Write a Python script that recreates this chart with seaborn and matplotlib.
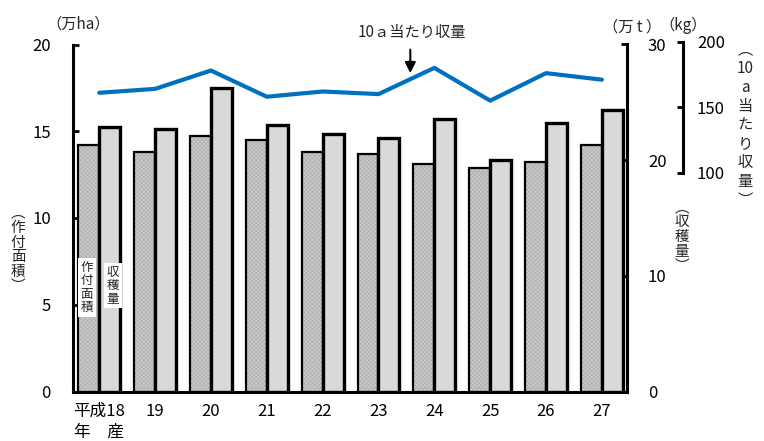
import numpy as np
import pandas as pd
import matplotlib
matplotlib.use("Agg")
import matplotlib.pyplot as plt
import seaborn as sns

# ---- data ----
years = ["18", "19", "20", "21", "22", "23", "24", "25", "26", "27"]
tick_labels = ["平成18\n年　産", "19", "20", "21", "22", "23", "24", "25", "26", "27"]
area = [14.2, 13.8, 14.7, 14.5, 13.8, 13.7, 13.1, 12.9, 13.2, 14.2]        # 万ha
harvest = [22.9, 22.7, 26.2, 23.0, 22.3, 21.9, 23.6, 20.0, 23.2, 24.3]     # 万t
yield_kg = [161, 164, 178, 158, 162, 160, 180, 155, 176, 171]              # kg/10a
series = ["作付面積", "収穫量"]

sns.set_theme(style="white")
FAM = ["Liberation Sans Narrow", "Noto Sans CJK JP", "DejaVu Sans"]
JP = ["Noto Sans CJK JP", "DejaVu Sans"]
plt.rcParams["font.family"] = FAM
plt.rcParams["hatch.linewidth"] = 0.35

W, H = 764, 441
fig = plt.figure(figsize=(W / 100, H / 100), dpi=100)

def fx(x):
    return x / W

def fy(y):
    return 1 - y / H

L, R, T, B = 73, 627, 44.5, 391.5
ax = fig.add_axes([fx(L), fy(B), fx(R) - fx(L), fy(T) - fy(B)])
ax2 = ax.twinx()

df_area = pd.DataFrame({"year": years, "value": area, "series": series[0]})
df_harv = pd.DataFrame({"year": years, "value": harvest, "series": series[1]})
pal = {series[0]: "#c8c8c8", series[1]: "#d9d9d9"}

sns.barplot(data=df_area, x="year", y="value", hue="series", hue_order=series,
            order=years, palette=pal, width=0.75, dodge=True, legend=False,
            edgecolor="black", linewidth=1.6, hatch="xxxxxxxx", ax=ax, saturation=1)
sns.barplot(data=df_harv, x="year", y="value", hue="series", hue_order=series,
            order=years, palette=pal, width=0.75, dodge=True, legend=False,
            edgecolor="black", linewidth=2.4, ax=ax2, saturation=1)
for p in ax.patches:
    p._hatch_color = (0.66, 0.66, 0.66, 1.0)

xl = (-0.47, 9.45)
ax.set_xlim(*xl)
ax2.set_xlim(*xl)
ax.set_ylim(0, 20)
ax2.set_ylim(0, 30)
ax.set_yticks([0, 5, 10, 15, 20])
ax2.set_yticks([0, 10, 20, 30])
ax.set_xticks(range(len(years)))
ax.set_xticklabels(tick_labels, fontsize=12, family=FAM, linespacing=1.35)
ax.set_xlabel("")
ax.set_ylabel("")
ax2.set_ylabel("")

for a in (ax, ax2):
    a.patch.set_visible(False)
    for s in a.spines.values():
        s.set_visible(False)
    a.grid(False)
ax.spines["left"].set_visible(True)
ax.spines["bottom"].set_visible(True)
ax2.spines["right"].set_visible(True)
for s in (ax.spines["left"], ax.spines["bottom"], ax2.spines["right"]):
    s.set_linewidth(2.2)
    s.set_color("black")

ax.tick_params(axis="y", direction="in", length=4, width=2, pad=16, labelsize=12,
               left=True, colors="black")
ax.tick_params(axis="x", length=0, pad=8, labelsize=12, colors="black")
ax2.tick_params(axis="y", direction="in", length=4, width=2, pad=15, labelsize=12,
                right=True, colors="black")

# ---- yield line on its own axis ----
k_top, k_bot = 41.7, 172.7
ax3 = fig.add_axes([fx(L), fy(k_bot), fx(R) - fx(L), fy(k_top) - fy(k_bot)])
df_y = pd.DataFrame({"pos": np.arange(len(years)), "kg": yield_kg})
sns.lineplot(data=df_y, x="pos", y="kg", color="#0070C0", linewidth=3.0, ax=ax3)
ax3.set_xlim(*xl)
ax3.set_ylim(100, 200)
ax3.patch.set_visible(False)
ax3.grid(False)
for s in ax3.spines.values():
    s.set_visible(False)
ax3.spines["right"].set_visible(True)
ax3.spines["right"].set_position(("axes", (683 - L) / (R - L)))
ax3.spines["right"].set_linewidth(2.2)
ax3.spines["right"].set_color("black")
ax3.yaxis.tick_right()
ax3.set_yticks([100, 150, 200])
ax3.tick_params(axis="y", direction="in", length=4, width=2, pad=10, labelsize=12,
                right=True, left=False, colors="black")
ax3.set_xticks([])
ax3.set_xlabel("")
ax3.set_ylabel("")

# ---- arrow annotation ----
ax3.annotate("", xy=(5.57, 176), xytext=(5.57, 194), annotation_clip=False,
             arrowprops=dict(arrowstyle="-|>", color="black", lw=1.5,
                             mutation_scale=16, shrinkA=0, shrinkB=0))
fig.text(fx(412), fy(33), "10ａ当たり収量", fontsize=11, family=JP,
         ha="center", va="center")

# ---- unit labels ----
fig.text(fx(78), fy(24), "（万ha）", fontsize=11, family=JP, ha="center", va="center")
fig.text(fx(632), fy(27), "（万 t ）", fontsize=11, family=JP, ha="center", va="center")
fig.text(fx(683), fy(25), "（kg）", fontsize=11, family=JP, ha="center", va="center")

# ---- vertical axis titles ----
fig.text(fx(18), fy(250), "\n".join(["︵", "作", "付", "面", "積", "︶"]), fontsize=10.5,
         family=JP, ha="center", va="center", linespacing=1.05)
fig.text(fx(682), fy(237), "\n".join(["︵", "収", "穫", "量", "︶"]), fontsize=10.5,
         family=JP, ha="center", va="center", linespacing=1.05)
fig.text(fx(745), fy(125), "\n".join(["︵", "10", "a", "当", "た", "り", "収", "量", "︶"]),
         fontsize=11, family=JP, ha="center", va="center", linespacing=1.15)

# ---- labels inside first bars (drawn on top axis) ----
bbox = dict(facecolor="white", edgecolor="none", pad=2)
lab_ax = fig.add_axes(ax.get_position(), sharex=ax)
lab_ax.set_ylim(0, 20)
lab_ax.axis("off")
lab_ax.text(-0.22, 6.0, "\n".join("作付面積"), fontsize=9, family=JP, ha="center",
            va="center", linespacing=1.05, bbox=bbox)
lab_ax.text(0.245, 6.1, "\n".join("収穫量"), fontsize=9, family=JP, ha="center",
            va="center", linespacing=1.05, bbox=bbox)

fig.savefig("out.png", dpi=100)
